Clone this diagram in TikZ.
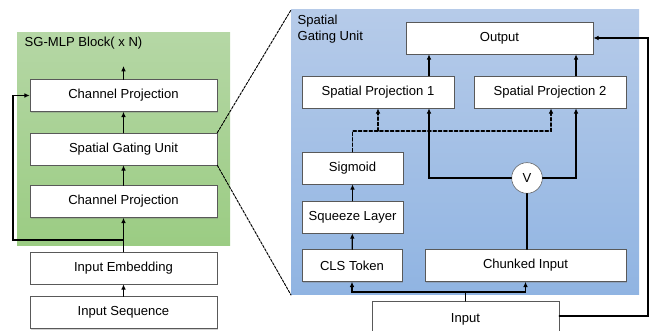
\documentclass[tikz,border=0pt]{standalone}
\usepackage{fontspec}
\setmainfont{Liberation Sans}
\usepackage{tikz}
\usetikzlibrary{arrows.meta,shadows}
\definecolor{gtop}{HTML}{B5D7A5}
\definecolor{gbot}{HTML}{9BCC83}
\definecolor{btop}{HTML}{B6CBE9}
\definecolor{bbot}{HTML}{90B4E2}

\begin{document}
\begin{tikzpicture}[x=0.75pt,y=-0.75pt,>={Latex[length=4pt,width=3.5pt]},font=\fontsize{9.8}{12}\selectfont,line cap=round,
  blk/.style={draw=black!65,fill=white,inner sep=0pt,minimum height=24pt,
    drop shadow={shadow xshift=1pt,shadow yshift=-1pt,opacity=0.35}},
  link/.style={->,line width=0.9pt},
  gate/.style={->,line width=0.9pt,dash pattern=on 2.5pt off 1.5pt}]
\useasboundingbox (0,0) rectangle (653,331);
\clip (0,0) rectangle (653,331);
% panels
\shade[top color=gtop,bottom color=gbot] (17,33) rectangle (230,246);
\shade[top color=btop,bottom color=bbot] (291,10) rectangle (639,295);
\node[anchor=west] (tsg) at (20,43) {SG-MLP Block( x N)};
\node[anchor=north west,align=left,inner sep=1pt] (tsgu) at (296,13) {Spatial\\Gating Unit};
% SG-MLP block
\node[blk,minimum width=140.25pt] (seq) at (123.5,312.5) {Input Sequence};
\node[blk,minimum width=140.25pt] (emb) at (123.5,268) {Input Embedding};
\node[blk,minimum width=140.25pt] (cp1) at (123.5,201.5) {Channel Projection};
\node[blk,minimum width=140.25pt] (sgu) at (123.5,149) {Spatial Gating Unit};
\node[blk,minimum width=140.25pt] (cp2) at (123.5,95.5) {Channel Projection};
\coordinate (top) at (123.5,66);
\coordinate (res) at (123.5,240);
\draw[link] (seq) -- (emb);
\draw[link] (emb) -- (cp1);
\draw[link] (cp1) -- (sgu);
\draw[link] (sgu) -- (cp2);
\draw[link] (cp2) -- (top);
\draw[link] (res) -- (13,240) |- (cp2.west);
% zoom lines
\draw[line width=0.7pt,dash pattern=on 2pt off 1pt] (sgu.north east) -- (291,10);
\draw[line width=0.7pt,dash pattern=on 2pt off 1pt] (sgu.south east) -- (291,295);
% spatial gating unit
\node[blk,minimum width=140.25pt] (out) at (499.5,38) {Output};
\node[blk,minimum width=114pt] (sp1) at (378,92) {Spatial Projection 1};
\node[blk,minimum width=114pt] (sp2) at (550,92) {Spatial Projection 2};
\node[blk,minimum width=75.75pt] (sig) at (352.5,168) {Sigmoid};
\node[blk,minimum width=75.75pt] (sqz) at (352.5,217) {Squeeze Layer};
\node[blk,minimum width=75pt] (cls) at (352,265.5) {CLS Token};
\node[blk,minimum width=150.75pt] (chk) at (525.5,265.5) {Chunked Input};
\node[draw=black!65,fill=white,circle,inner sep=0pt,minimum size=23pt] (v) at (527,178) {V};
\node[blk,minimum width=140.25pt,minimum height=27pt,anchor=north] (inp) at (465.5,301) {Input};
\draw[link] (sp1.north -| 429,0) -- (out.south -| 429,0);
\draw[link] (sp2.north -| 576,0) -- (out.south -| 576,0);
\draw[link] (v.west) -| (sp1.south -| 429,0);
\draw[link] (v.east) -| (sp2.south -| 576,0);
\draw[line width=0.9pt] (chk.north -| v) -- (v.south);
\draw[link] (sqz) -- (sig);
\draw[link] (cls) -- (sqz);
\draw[gate] (sig.north) -- (352.5,131) -| (sp2.south -| 551,0);
\draw[gate] (378,131) -- (sp1.south);
\draw[link] (inp.north) -- (465.5,292) -| (cls.south);
\draw[link] (465.5,292) -| (chk.south);
\draw[link] (inp.east |- 0,316) -- (648,316) |- (out.east);
\end{tikzpicture}
\end{document}
